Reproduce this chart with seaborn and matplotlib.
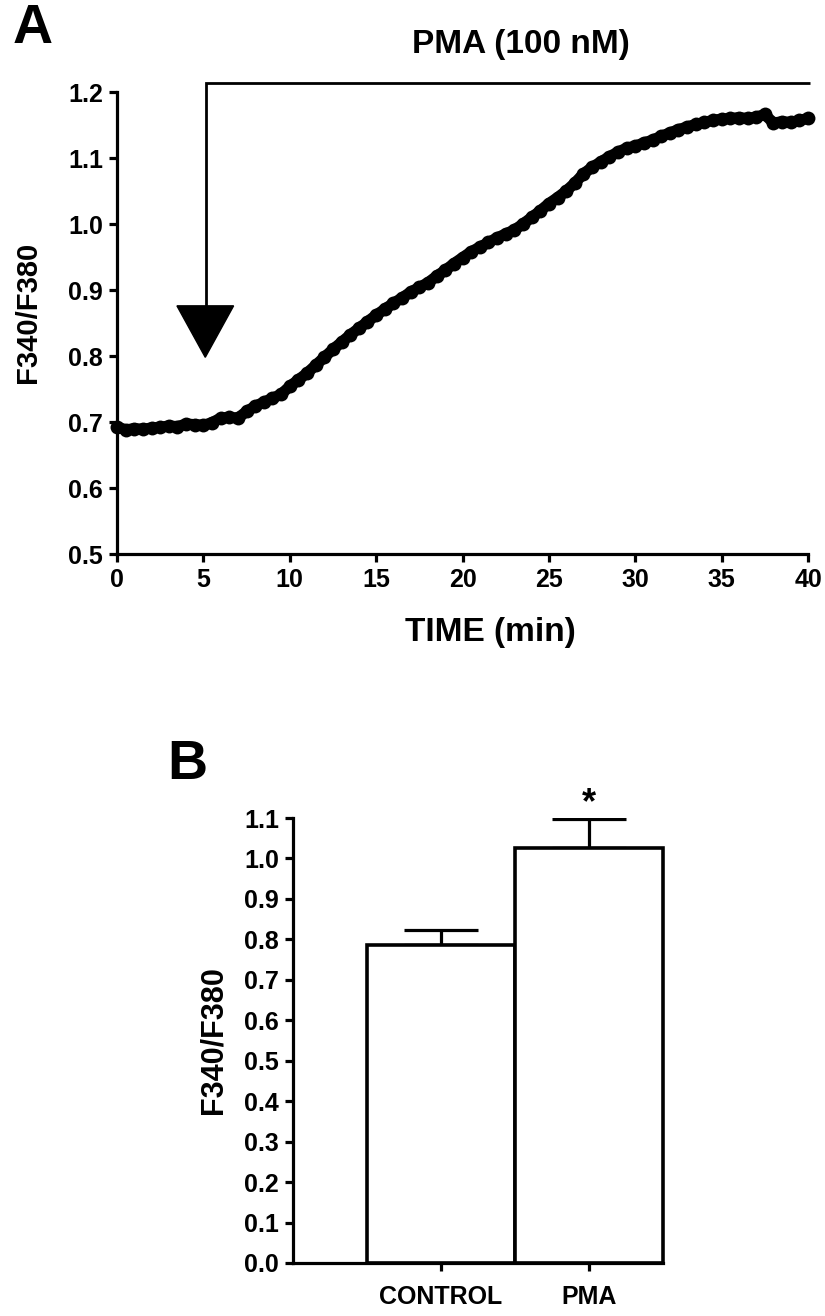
import matplotlib
matplotlib.use("Agg")
import matplotlib.pyplot as plt
import seaborn as sns
import numpy as np
import pandas as pd

# ---- data ----
time_min = [0, 0.5, 1, 1.5, 2, 2.5, 3, 3.5, 4, 4.5, 5, 5.5, 6, 6.5, 7, 7.5, 8, 8.5, 9, 9.5,
            10, 10.5, 11, 11.5, 12, 12.5, 13, 13.5, 14, 14.5, 15, 15.5, 16, 16.5, 17, 17.5,
            18, 18.5, 19, 19.5, 20, 20.5, 21, 21.5, 22, 22.5, 23, 23.5, 24, 24.5, 25, 25.5,
            26, 26.5, 27, 27.5, 28, 28.5, 29, 29.5, 30, 30.5, 31, 31.5, 32, 32.5, 33, 33.5,
            34, 34.5, 35, 35.5, 36, 36.5, 37, 37.5, 38, 38.5, 39, 39.5, 40]
ratio = [0.693, 0.688, 0.690, 0.689, 0.691, 0.692, 0.694, 0.693, 0.697, 0.696, 0.695, 0.699,
         0.706, 0.707, 0.706, 0.716, 0.724, 0.730, 0.736, 0.742, 0.754, 0.764, 0.774, 0.786,
         0.798, 0.810, 0.821, 0.832, 0.842, 0.852, 0.862, 0.871, 0.880, 0.888, 0.897, 0.904,
         0.911, 0.921, 0.930, 0.940, 0.949, 0.958, 0.965, 0.972, 0.979, 0.985, 0.991, 1.000,
         1.010, 1.020, 1.031, 1.040, 1.050, 1.062, 1.076, 1.086, 1.094, 1.102, 1.109, 1.115,
         1.118, 1.123, 1.127, 1.133, 1.138, 1.143, 1.147, 1.151, 1.154, 1.157, 1.159, 1.160,
         1.161, 1.160, 1.162, 1.166, 1.153, 1.155, 1.154, 1.157, 1.160]

bar_categories = ["CONTROL", "PMA"]
bar_values = [0.787, 1.027]
bar_sem = [0.035, 0.070]

xticks_a = [0, 5, 10, 15, 20, 25, 30, 35, 40]
yticks_a = [0.5, 0.6, 0.7, 0.8, 0.9, 1.0, 1.1, 1.2]
yticks_b = [0.0, 0.1, 0.2, 0.3, 0.4, 0.5, 0.6, 0.7, 0.8, 0.9, 1.0, 1.1]

# ---- style ----
sns.set_theme(style="ticks")
plt.rcParams['font.family'] = ['Liberation Sans', 'DejaVu Sans']
plt.rcParams['font.weight'] = 'bold'
plt.rcParams['axes.labelweight'] = 'bold'
for k in ['text.color', 'axes.labelcolor', 'xtick.color', 'ytick.color', 'axes.edgecolor']:
    plt.rcParams[k] = 'black'

LW = 2.3
TICK_FS = 18
LABEL_FS = 21

W, H = 825, 1316
fig = plt.figure(figsize=(W / 100, H / 100), dpi=100)

def style_axes(ax):
    sns.despine(ax=ax)
    for s in ["left", "bottom"]:
        ax.spines[s].set_linewidth(LW)
        ax.spines[s].set_color("black")
    ax.tick_params(direction="out", length=6, width=LW, colors="black",
                   labelcolor="black", labelsize=TICK_FS, pad=4)
    for lab in ax.get_xticklabels() + ax.get_yticklabels():
        lab.set_fontweight("bold")

# ---- Panel A ----
axA = fig.add_axes([117 / W, 1 - 554 / H, 691 / W, 462 / H])
dfA = pd.DataFrame({"t": time_min, "r": ratio})
sns.lineplot(data=dfA, x="t", y="r", ax=axA, color="black", linewidth=8,
             marker="o", markersize=10, markeredgewidth=0, clip_on=False)
axA.set_xlim(0, 40)
axA.set_ylim(0.5, 1.2)
axA.set_xticks(xticks_a)
axA.set_xticklabels([str(v) for v in xticks_a])
axA.set_yticks(yticks_a)
axA.set_yticklabels([f"{v:.1f}" for v in yticks_a])
axA.set_xlabel("")
axA.set_ylabel("")
style_axes(axA)

# PMA application bracket and arrow
axA.plot([5.16, 5.16, 40.1], [0.876, 1.214, 1.214], color="black", lw=2.0,
         clip_on=False, solid_capstyle="butt", solid_joinstyle="miter")
axA.fill([3.47, 6.75, 5.11], [0.876, 0.876, 0.798], color="black", clip_on=False)

fig.text(521 / W, 1 - 44 / H, "PMA (100 nM)", ha="center", va="center",
         fontsize=24, fontweight="bold")
fig.text(490 / W, 1 - 632 / H, "TIME (min)", ha="center", va="center",
         fontsize=24, fontweight="bold")
fig.text(28 / W, 1 - 312 / H, "F340/F380", ha="center", va="center",
         rotation=90, fontsize=LABEL_FS, fontweight="bold")
fig.text(33 / W, 1 - 29 / H, "A", ha="center", va="center",
         fontsize=40, fontweight="bold")

# ---- Panel B ----
axB = fig.add_axes([293 / W, 1 - 1263 / H, 370 / W, 445 / H])
dfB = pd.DataFrame({"cat": bar_categories, "val": bar_values})
sns.barplot(data=dfB, x="cat", y="val", ax=axB, color="white", edgecolor="black",
            linewidth=LW + 0.3, width=1.0, errorbar=None, saturation=1)
for p in axB.patches:
    p.set_facecolor("white")
    p.set_clip_on(False)
axB.errorbar(range(len(bar_values)), bar_values,
             yerr=[[0] * len(bar_sem), bar_sem], fmt="none", ecolor="black",
             elinewidth=LW, capsize=26.5, capthick=LW, zorder=0)
axB.set_xlim(-1.0, 1.5)
axB.set_ylim(0, 1.1)
axB.set_yticks(yticks_b)
axB.set_yticklabels([f"{v:.1f}" for v in yticks_b])
axB.set_xlabel("")
axB.set_ylabel("")
style_axes(axB)
axB.tick_params(axis="x", labelsize=18, pad=10)
for lab in axB.get_xticklabels():
    lab.set_fontweight("bold")

axB.text(1, 1.135, "*", ha="center", va="center", fontsize=26, fontweight="bold",
         clip_on=False)

fig.text(213 / W, 1 - 1040 / H, "F340/F380", ha="center", va="center",
         rotation=90, fontsize=LABEL_FS + 1, fontweight="bold")
fig.text(187 / W, 1 - 765 / H, "B", ha="center", va="center",
         fontsize=40, fontweight="bold")

fig.savefig("out.png", dpi=100, facecolor="white")
